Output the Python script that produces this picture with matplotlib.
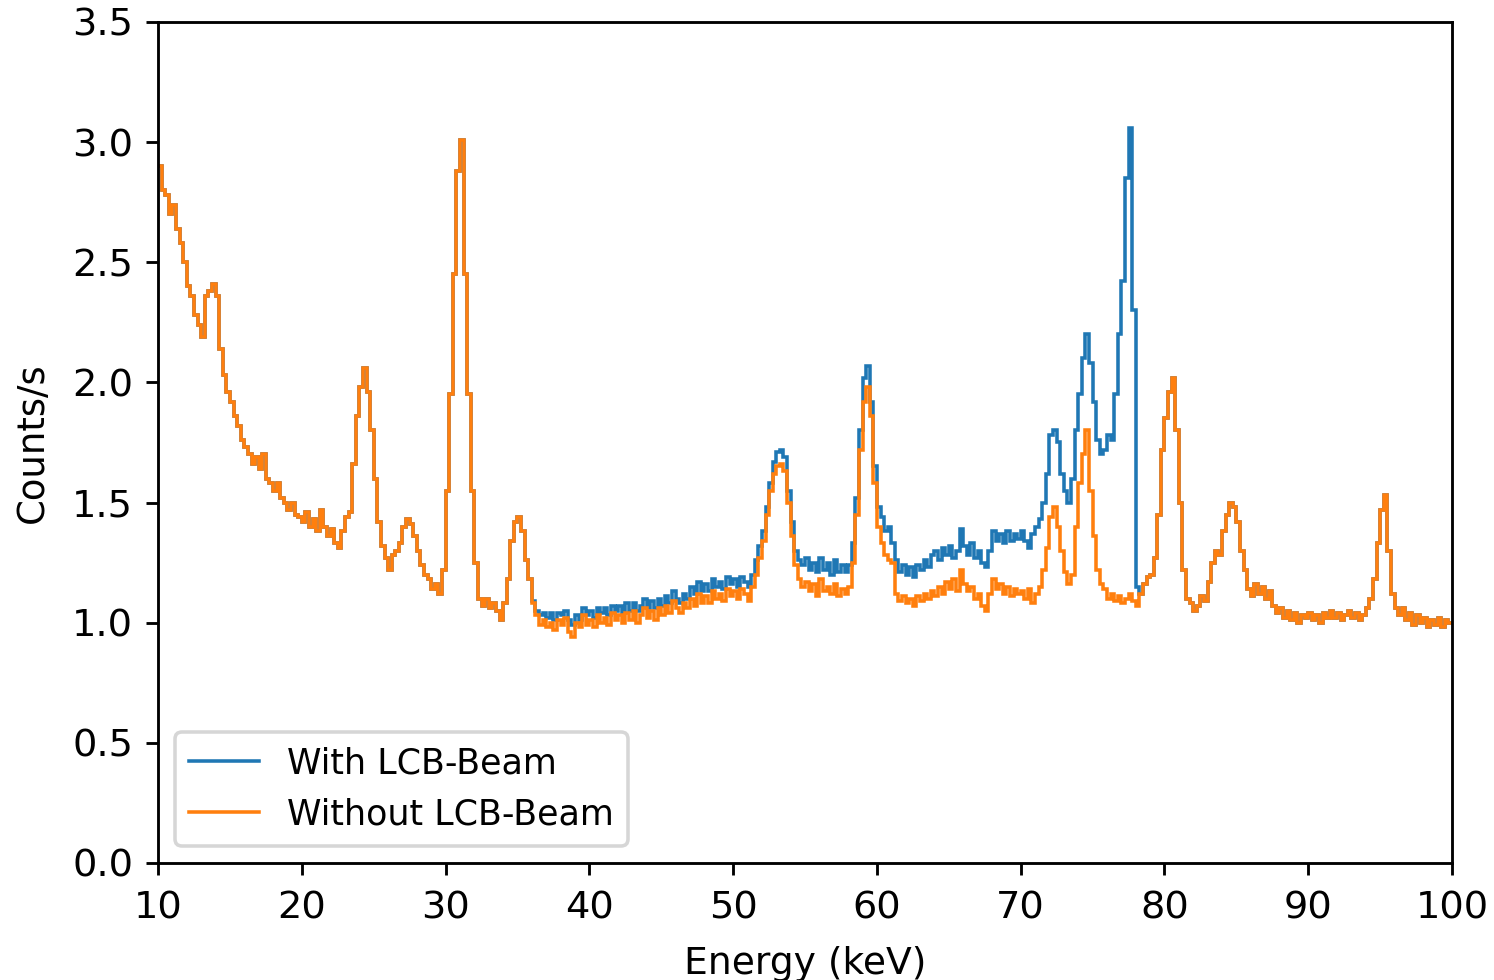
import numpy as np
import matplotlib
matplotlib.use("Agg")
import matplotlib.pyplot as plt

# energy bins, 0.25 keV wide, 10..100 keV
bin_edges = np.arange(10.0, 100.0001, 0.25)

# count rate without the LCB beam (one value per bin)
without_beam = [
    # 10 - 15 keV
    2.90, 2.80, 2.78, 2.70, 2.74, 2.64, 2.58, 2.50, 2.40, 2.36,
    2.28, 2.24, 2.19, 2.36, 2.38, 2.41, 2.36, 2.14, 2.03, 1.96,
    # 15 - 20
    1.92, 1.86, 1.82, 1.76, 1.73, 1.70, 1.66, 1.69, 1.64, 1.70,
    1.60, 1.58, 1.55, 1.58, 1.52, 1.50, 1.47, 1.50, 1.45, 1.44,
    # 20 - 25
    1.42, 1.46, 1.40, 1.43, 1.38, 1.47, 1.40, 1.36, 1.39, 1.33,
    1.31, 1.38, 1.44, 1.46, 1.66, 1.86, 1.98, 2.06, 1.96, 1.80,
    # 25 - 30
    1.60, 1.42, 1.32, 1.27, 1.22, 1.28, 1.30, 1.33, 1.40, 1.43,
    1.41, 1.36, 1.30, 1.24, 1.20, 1.18, 1.14, 1.16, 1.12, 1.22,
    # 30 - 35
    1.55, 1.95, 2.45, 2.88, 3.01, 2.45, 1.95, 1.55, 1.25, 1.10,
    1.07, 1.10, 1.06, 1.08, 1.05, 1.01, 1.08, 1.18, 1.34, 1.42,
    # 35 - 40
    1.44, 1.38, 1.26, 1.18, 1.08, 1.03, 0.99, 1.01, 0.98, 1.00,
    0.97, 1.01, 0.99, 1.02, 0.96, 0.94, 1.00, 0.98, 1.03, 0.99,
    # 40 - 45
    1.01, 0.98, 1.03, 1.00, 1.02, 0.99, 1.04, 1.01, 1.03, 1.00,
    1.04, 1.01, 1.05, 1.00, 1.03, 1.06, 1.02, 1.05, 1.01, 1.06,
    # 45 - 50
    1.03, 1.07, 1.04, 1.09, 1.06, 1.04, 1.08, 1.06, 1.10, 1.07,
    1.12, 1.08, 1.11, 1.08, 1.13, 1.10, 1.12, 1.09, 1.14, 1.11,
    # 50 - 55
    1.13, 1.10, 1.14, 1.12, 1.09, 1.15, 1.20, 1.27, 1.34, 1.45,
    1.55, 1.62, 1.65, 1.66, 1.63, 1.50, 1.36, 1.24, 1.18, 1.15,
    # 55 - 60
    1.17, 1.13, 1.16, 1.11, 1.18, 1.13, 1.15, 1.12, 1.16, 1.11,
    1.14, 1.12, 1.15, 1.25, 1.45, 1.72, 1.92, 1.98, 1.86, 1.58,
    # 60 - 65
    1.40, 1.33, 1.28, 1.26, 1.25, 1.12, 1.09, 1.11, 1.08, 1.10,
    1.07, 1.11, 1.09, 1.12, 1.10, 1.13, 1.11, 1.15, 1.12, 1.17,
    # 65 - 70
    1.14, 1.18, 1.13, 1.22, 1.16, 1.13, 1.15, 1.10, 1.12, 1.07,
    1.05, 1.12, 1.18, 1.14, 1.16, 1.12, 1.15, 1.11, 1.14, 1.12,
    # 70 - 75
    1.13, 1.10, 1.14, 1.08, 1.12, 1.15, 1.22, 1.31, 1.44, 1.48,
    1.40, 1.30, 1.21, 1.16, 1.20, 1.40, 1.58, 1.70, 1.80, 1.55,
    # 75 - 80
    1.36, 1.22, 1.16, 1.14, 1.10, 1.12, 1.09, 1.11, 1.08, 1.10,
    1.12, 1.09, 1.07, 1.12, 1.16, 1.19, 1.20, 1.27, 1.45, 1.72,
    # 80 - 85
    1.85, 1.96, 2.02, 1.80, 1.50, 1.22, 1.10, 1.08, 1.05, 1.07,
    1.11, 1.09, 1.17, 1.25, 1.30, 1.28, 1.38, 1.45, 1.50, 1.48,
    # 85 - 90
    1.42, 1.30, 1.22, 1.14, 1.11, 1.16, 1.12, 1.15, 1.10, 1.13,
    1.07, 1.04, 1.06, 1.02, 1.05, 1.01, 1.04, 1.00, 1.03, 1.02,
    # 90 - 95
    1.04, 1.01, 1.03, 1.00, 1.04, 1.02, 1.05, 1.02, 1.04, 1.01,
    1.03, 1.05, 1.02, 1.04, 1.01, 1.03, 1.06, 1.10, 1.18, 1.33,
    # 95 - 100
    1.47, 1.53, 1.30, 1.12, 1.06, 1.03, 1.06, 1.01, 1.04, 0.99,
    1.03, 1.00, 1.02, 0.98, 1.01, 0.99, 1.02, 0.98, 1.01, 1.00,
]

# with the beam the spectrum only differs between 36 and 78.25 keV
with_beam_start = 36.0
with_beam_mid = [
    # 36 - 40
    1.09, 1.05, 1.03, 1.04, 1.02, 1.04, 1.01, 1.04, 1.03, 1.05,
    1.01, 0.99, 1.03, 1.01, 1.06, 1.03,
    # 40 - 45
    1.05, 1.02, 1.06, 1.04, 1.06, 1.03, 1.07, 1.05, 1.07, 1.04,
    1.08, 1.05, 1.08, 1.05, 1.07, 1.10, 1.06, 1.09, 1.06, 1.10,
    # 45 - 50
    1.07, 1.11, 1.08, 1.13, 1.10, 1.08, 1.12, 1.10, 1.15, 1.12,
    1.17, 1.13, 1.16, 1.13, 1.18, 1.15, 1.17, 1.14, 1.19, 1.16,
    # 50 - 55
    1.18, 1.15, 1.19, 1.17, 1.15, 1.20, 1.26, 1.32, 1.38, 1.48,
    1.58, 1.67, 1.71, 1.72, 1.69, 1.55, 1.42, 1.30, 1.26, 1.24,
    # 55 - 60
    1.27, 1.22, 1.25, 1.21, 1.27, 1.22, 1.25, 1.20, 1.26, 1.21,
    1.24, 1.21, 1.24, 1.33, 1.52, 1.80, 2.02, 2.07, 1.92, 1.65,
    # 60 - 65
    1.48, 1.44, 1.38, 1.40, 1.33, 1.26, 1.21, 1.24, 1.20, 1.23,
    1.19, 1.24, 1.22, 1.26, 1.23, 1.28, 1.30, 1.26, 1.31, 1.28,
    # 65 - 70
    1.32, 1.27, 1.30, 1.39, 1.32, 1.28, 1.33, 1.27, 1.30, 1.25,
    1.23, 1.30, 1.38, 1.34, 1.37, 1.33, 1.38, 1.34, 1.37, 1.35,
    # 70 - 75
    1.38, 1.34, 1.31, 1.37, 1.40, 1.43, 1.50, 1.62, 1.78, 1.80,
    1.75, 1.62, 1.55, 1.50, 1.60, 1.80, 1.95, 2.10, 2.20, 2.08,
    # 75 - 78.25
    1.92, 1.76, 1.70, 1.72, 1.78, 1.76, 1.95, 2.20, 2.42, 2.85,
    3.06, 2.30, 1.15,
]

without_beam = np.array(without_beam)
i0 = int(round((with_beam_start - 10.0) / 0.25))
i1 = i0 + len(with_beam_mid)
with_beam = np.concatenate([without_beam[:i0], with_beam_mid, without_beam[i1:]])

fig = plt.figure(figsize=(1494 / 256, 980 / 256), dpi=256)
ax = fig.add_axes([0.1058, 0.1194, 0.8661, 0.8582])

ax.stairs(with_beam, bin_edges, baseline=None, color='#1f77b4',
          linewidth=1.0, label='With LCB-Beam')
ax.stairs(without_beam, bin_edges, baseline=None, color='#ff7f0e',
          linewidth=1.0, label='Without LCB-Beam')

ax.set_xlim(10, 100)
ax.set_ylim(0, 3.5)
ax.tick_params(labelsize=10.8)
ax.tick_params(axis='x', pad=4.2)
ax.set_xlabel('Energy (keV)', fontsize=10.6, labelpad=5.5)
ax.set_ylabel('Counts/s', fontsize=10.4, labelpad=6)
ax.legend(loc='lower left', fontsize=9.8)

fig.savefig('out.png', dpi=256)
